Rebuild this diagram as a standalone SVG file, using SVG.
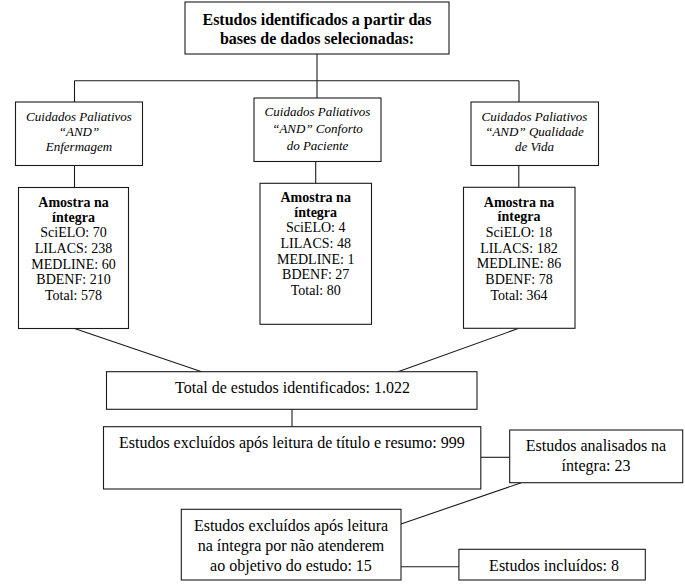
<svg xmlns="http://www.w3.org/2000/svg" width="685" height="587" viewBox="0 0 685 587">
<style>
  .box { fill: #ffffff; stroke: #1a1a1a; stroke-width: 1.1; }
  .ln { stroke: #1a1a1a; stroke-width: 1.1; fill: none; }
  text { font-family: "Liberation Serif", "Times New Roman", serif; fill: #000; text-anchor: middle; }
  .t16 { font-size: 16px; }
  .b16 { font-size: 16px; font-weight: bold; }
  .i13 { font-size: 13px; font-style: italic; }
  .t14 { font-size: 14px; }
  .b14 { font-size: 14px; font-weight: bold; }
</style>
<rect width="685" height="587" fill="#ffffff"/>
<g id="connectors">
  <line class="ln" x1="317" y1="54" x2="317" y2="98"/>
  <line class="ln" x1="74.5" y1="80.7" x2="519" y2="80.7"/>
  <line class="ln" x1="74.5" y1="80.7" x2="74.5" y2="102"/>
  <line class="ln" x1="519" y1="80.7" x2="519" y2="102"/>
  <line class="ln" x1="74.5" y1="165.5" x2="74.5" y2="187.5"/>
  <line class="ln" x1="315.7" y1="161.5" x2="315.7" y2="183.3"/>
  <line class="ln" x1="518.8" y1="165.5" x2="518.8" y2="187.3"/>
  <line class="ln" x1="74.5" y1="328.5" x2="201.7" y2="371.7"/>
  <line class="ln" x1="518.8" y1="328.3" x2="398" y2="371.7"/>
  <line class="ln" x1="292" y1="409.3" x2="292" y2="426.7"/>
  <line class="ln" x1="480.8" y1="457.3" x2="509.7" y2="457.3"/>
  <line class="ln" x1="521.3" y1="482.7" x2="401" y2="524"/>
  <line class="ln" x1="401" y1="566.7" x2="458.9" y2="566.7"/>
</g>
<g id="node-top">
  <rect class="box" x="185" y="2" width="264" height="52"/>
  <text class="b16" x="317" y="25">Estudos identificados a partir das</text>
  <text class="b16" x="317" y="44">bases de dados selecionadas:</text>
</g>
<g id="node-search-1">
  <rect class="box" x="15.5" y="102" width="127" height="63.5"/>
  <text class="i13" x="79" y="121">Cuidados Paliativos</text>
  <text class="i13" x="79" y="136">“AND”</text>
  <text class="i13" x="79" y="151">Enfermagem</text>
</g>
<g id="node-search-2">
  <rect class="box" x="254" y="98" width="127" height="63.5"/>
  <text class="i13" x="317.5" y="116">Cuidados Paliativos</text>
  <text class="i13" x="317.5" y="133">“AND” Conforto</text>
  <text class="i13" x="317.5" y="150">do Paciente</text>
</g>
<g id="node-search-3">
  <rect class="box" x="471" y="102" width="127.5" height="63.5"/>
  <text class="i13" x="534.5" y="121">Cuidados Paliativos</text>
  <text class="i13" x="534.5" y="136">“AND” Qualidade</text>
  <text class="i13" x="534.5" y="151">de Vida</text>
</g>
<g id="node-sample-1">
  <rect class="box" x="18.5" y="187.5" width="110" height="141"/>
  <text class="b14" x="73.5" y="206.7">Amostra na</text>
  <text class="b14" x="73.5" y="221.5">íntegra</text>
  <text class="t14" x="73.5" y="237.3">SciELO: 70</text>
  <text class="t14" x="73.5" y="253">LILACS: 238</text>
  <text class="t14" x="73.5" y="268.5">MEDLINE: 60</text>
  <text class="t14" x="73.5" y="284">BDENF: 210</text>
  <text class="t14" x="73.5" y="300">Total: 578</text>
</g>
<g id="node-sample-2">
  <rect class="box" x="260" y="183.3" width="111.5" height="141"/>
  <text class="b14" x="315.7" y="201.7">Amostra na</text>
  <text class="b14" x="315.7" y="216.5">íntegra</text>
  <text class="t14" x="315.7" y="232.3">SciELO: 4</text>
  <text class="t14" x="315.7" y="248">LILACS: 48</text>
  <text class="t14" x="315.7" y="263.5">MEDLINE: 1</text>
  <text class="t14" x="315.7" y="279">BDENF: 27</text>
  <text class="t14" x="315.7" y="295">Total: 80</text>
</g>
<g id="node-sample-3">
  <rect class="box" x="463.5" y="187.3" width="111.5" height="141"/>
  <text class="b14" x="519" y="206.5">Amostra na</text>
  <text class="b14" x="519" y="221.3">íntegra</text>
  <text class="t14" x="519" y="237.1">SciELO: 18</text>
  <text class="t14" x="519" y="252.8">LILACS: 182</text>
  <text class="t14" x="519" y="268.3">MEDLINE: 86</text>
  <text class="t14" x="519" y="283.8">BDENF: 78</text>
  <text class="t14" x="519" y="299.8">Total: 364</text>
</g>
<g id="node-total">
  <rect class="box" x="106.5" y="371.7" width="370.5" height="37.6"/>
  <text class="t16" x="292.5" y="392.5">Total de estudos identificados: 1.022</text>
</g>
<g id="node-excluded-1">
  <rect class="box" x="103.5" y="426.7" width="377.3" height="62.3"/>
  <text class="t16" x="291.8" y="448">Estudos excluídos após leitura de título e resumo: 999</text>
</g>
<g id="node-analysed">
  <rect class="box" x="509.7" y="430" width="173" height="52.7"/>
  <text class="t16" x="596" y="451">Estudos analisados na</text>
  <text class="t16" x="596" y="471">íntegra: 23</text>
</g>
<g id="node-excluded-2">
  <rect class="box" x="181.3" y="509.3" width="219.7" height="70.7"/>
  <text class="t16" x="291" y="531">Estudos excluídos após leitura</text>
  <text class="t16" x="291" y="551">na íntegra por não atenderem</text>
  <text class="t16" x="291" y="571">ao objetivo do estudo: 15</text>
</g>
<g id="node-included">
  <rect class="box" x="458.9" y="549.3" width="186.4" height="30.7"/>
  <text class="t16" x="554" y="571">Estudos incluídos: 8</text>
</g>
</svg>
